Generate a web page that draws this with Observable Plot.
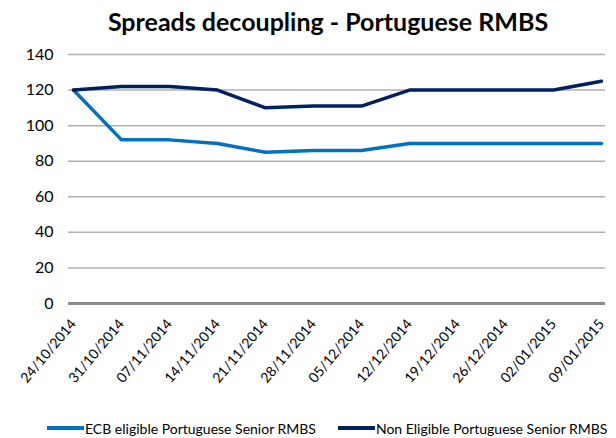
<!DOCTYPE html>
<html>
<head>
<meta charset="utf-8">
<script src="https://cdn.jsdelivr.net/npm/d3@7"></script>
<script src="https://cdn.jsdelivr.net/npm/@observablehq/plot@0.6"></script>
<style>
  html, body { margin: 0; padding: 0; background: #fff; }
  body { width: 616px; height: 438px; overflow: hidden; font-family: Lato, "Noto Sans", sans-serif; }
  #title { height: 44px; line-height: 42px; text-align: center; font-weight: bold; font-size: 25px; color: #000; padding-left: 40px; white-space: nowrap; }
  #chart svg { display: block; }
  #legend { display: flex; align-items: center; height: 24px; margin-top: 12px; padding-left: 47px; font-size: 14px; color: #000; white-space: nowrap; }
  .item { display: flex; align-items: center; margin-right: 22px; }
  .sw { width: 37px; height: 4px; display: inline-block; margin-right: 1px; }
</style>
</head>
<body>
<div id="title"></div>
<div id="chart"></div>
<div id="legend"></div>
<script>
const titleText = "Spreads decoupling - Portuguese RMBS";
const dates = ["24/10/2014","31/10/2014","07/11/2014","14/11/2014","21/11/2014","28/11/2014","05/12/2014","12/12/2014","19/12/2014","26/12/2014","02/01/2015","09/01/2015"];
const ecbEligible = [120, 92, 92, 90, 85, 86, 86, 90, 90, 90, 90, 90];
const nonEligible = [120, 122, 122, 120, 110, 111, 111, 120, 120, 120, 120, 125];
const yTicks = [0, 20, 40, 60, 80, 100, 120, 140];
const seriesNames = ["ECB eligible Portuguese Senior RMBS", "Non Eligible Portuguese Senior RMBS"];
const seriesColors = ["#0070C0", "#002060"];

document.getElementById("title").textContent = titleText;

const rows = dates.flatMap((d, i) => [
  {date: d, value: ecbEligible[i], series: seriesNames[0]},
  {date: d, value: nonEligible[i], series: seriesNames[1]}
]);

const chart = Plot.plot({
  width: 616,
  height: 360,
  marginTop: 10,
  marginLeft: 68,
  marginRight: 11,
  marginBottom: 101,
  style: {fontFamily: 'Lato, "Noto Sans", sans-serif', color: "#000", background: "transparent"},
  x: {type: "point", domain: dates, padding: 0, label: null},
  y: {domain: [0, 140], label: null},
  color: {domain: seriesNames, range: seriesColors},
  marks: [
    Plot.gridY(yTicks, {stroke: "#b0b0b0", strokeOpacity: 1, strokeWidth: 1.5}),
    Plot.ruleY([0], {stroke: "#8c8c8c", strokeWidth: 3}),
    Plot.lineY(rows, {x: "date", y: "value", stroke: "series", strokeWidth: 3.5}),
    Plot.axisX({tickRotate: -50, tickSize: 0, tickPadding: 18, fontSize: 14, label: null}),
    Plot.axisY({ticks: yTicks, tickSize: 0, tickPadding: 15, fontSize: 16, label: null})
  ]
});
document.getElementById("chart").appendChild(chart);

const legend = document.getElementById("legend");
seriesNames.forEach((name, i) => {
  const item = document.createElement("div");
  item.className = "item";
  const sw = document.createElement("span");
  sw.className = "sw";
  sw.style.background = seriesColors[i];
  const label = document.createElement("span");
  label.textContent = name;
  item.appendChild(sw);
  item.appendChild(label);
  legend.appendChild(item);
});
</script>
</body>
</html>
